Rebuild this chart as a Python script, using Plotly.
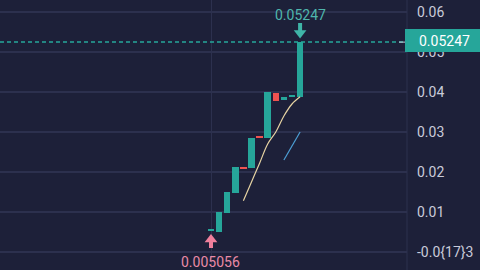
import plotly.graph_objects as go

# ---- data ----
idx = list(range(12))
opens  = [0.0052, 0.0051, 0.0098, 0.0147, 0.0210, 0.0209, 0.0288, 0.0285, 0.0398, 0.0380, 0.0387, 0.0388]
closes = [0.0053, 0.0101, 0.0149, 0.0213, 0.0208, 0.0284, 0.0286, 0.0401, 0.0378, 0.0387, 0.0389, 0.05247]
ma1_x = [4, 5, 6, 7, 8, 9, 10, 11]
ma1_y = [0.0128, 0.0175, 0.0222, 0.0270, 0.0300, 0.0340, 0.0370, 0.0388]
ma2_x = [9, 10, 11]
ma2_y = [0.0230, 0.0265, 0.0300]
last_price = 0.05247
low_price = 0.005056
low_idx = 0
high_idx = 11
tick_vals = [0.0, 0.01, 0.02, 0.03, 0.04, 0.05, 0.06]
tick_text = ["-0.0{17}3", "0.01", "0.02", "0.03", "0.04", "0.05", "0.06"]

BG = "#1d2039"
GRID = "#2c304e"
TEAL = "#26a69a"
RED = "#ef5350"
PINK = "#e98aa6"
LABEL = "#c9cbd9"
UP_ARROW = "#f07f9c"
DN_ARROW = "#3fb5a8"

Y_TOP = 0.063
PX = 1 / 4000  # data units per pixel (layout helper)


def ypx(p):
    return Y_TOP - p * PX


min_h = 0.0005
base = [min(o, c) for o, c in zip(opens, closes)]
height = [max(abs(c - o), min_h) for o, c in zip(opens, closes)]
colors = [TEAL if c >= o else RED for o, c in zip(opens, closes)]

fig = go.Figure()
fig.add_trace(go.Bar(x=idx, y=height, base=base, width=0.8,
                     marker=dict(color=colors, line=dict(width=0)),
                     hoverinfo="skip"))
fig.add_trace(go.Scatter(x=ma1_x, y=ma1_y, mode="lines",
                         line=dict(color="#e6d3a3", width=1.2, shape="spline"),
                         hoverinfo="skip"))
fig.add_trace(go.Scatter(x=ma2_x, y=ma2_y, mode="lines",
                         line=dict(color="#4d9fd6", width=1.2),
                         hoverinfo="skip"))

# last price dashed line
fig.add_shape(type="line", xref="paper", x0=0, x1=1, yref="y", y0=last_price, y1=last_price,
              line=dict(color=TEAL, width=1.5, dash="4px,3px"))
# right axis separator
fig.add_shape(type="line", xref="paper", x0=1, x1=1, yref="paper", y0=0, y1=1,
              line=dict(color=GRID, width=1))
# price label box
fig.add_shape(type="rect", xref="paper", x0=405/407, x1=1.2, yref="y",
              y0=0.0500, y1=0.05575, fillcolor=TEAL, line=dict(width=0), layer="above")
fig.add_shape(type="line", xref="paper", x0=399/407, x1=405/407, yref="y",
              y0=last_price, y1=last_price, line=dict(color=LABEL, width=1))
fig.add_annotation(xref="paper", x=417/407, yref="y", y=0.05287, text=str(last_price),
                   showarrow=False, xanchor="left", yanchor="middle",
                   font=dict(color="#ffffff", size=14, family="Roboto"))

# high marker (label + down arrow)
fig.add_annotation(x=high_idx, y=ypx(15), text=str(last_price), showarrow=False,
                   font=dict(color="#4fb6ad", size=14, family="Roboto"))
fig.add_shape(type="line", x0=high_idx, x1=high_idx, y0=ypx(23), y1=ypx(31),
              line=dict(color=DN_ARROW, width=4))
fig.add_trace(go.Scatter(x=[high_idx], y=[ypx(33)], mode="markers",
                         marker=dict(symbol="triangle-down", size=11, color=DN_ARROW),
                         hoverinfo="skip"))
# low marker (up arrow + label)
fig.add_annotation(x=low_idx, y=ypx(262), text=f"{low_price:.6f}", showarrow=False,
                   font=dict(color=PINK, size=14, family="Roboto"))
fig.add_shape(type="line", x0=low_idx, x1=low_idx, y0=ypx(240), y1=ypx(248),
              line=dict(color=UP_ARROW, width=4))
fig.add_trace(go.Scatter(x=[low_idx], y=[ypx(239.5)], mode="markers",
                         marker=dict(symbol="triangle-up", size=11, color=UP_ARROW),
                         hoverinfo="skip"))

fig.update_layout(
    width=480, height=270, margin=dict(l=0, r=73, t=0, b=0),
    paper_bgcolor=BG, plot_bgcolor=BG, showlegend=False, bargap=0,
    xaxis=dict(range=[-26.05, 24.2], tickvals=[0.1], showticklabels=False,
               showgrid=True, gridcolor=GRID, zeroline=False, fixedrange=True),
    yaxis=dict(range=[-0.0045, 0.063], side="right", tickvals=tick_vals, ticktext=tick_text,
               showgrid=True, gridcolor=GRID, gridwidth=1.5, zeroline=False, ticks="",
               ticklabelstandoff=9, tickfont=dict(color=LABEL, size=14, family="Roboto")),
)
fig.write_html("out.html")
